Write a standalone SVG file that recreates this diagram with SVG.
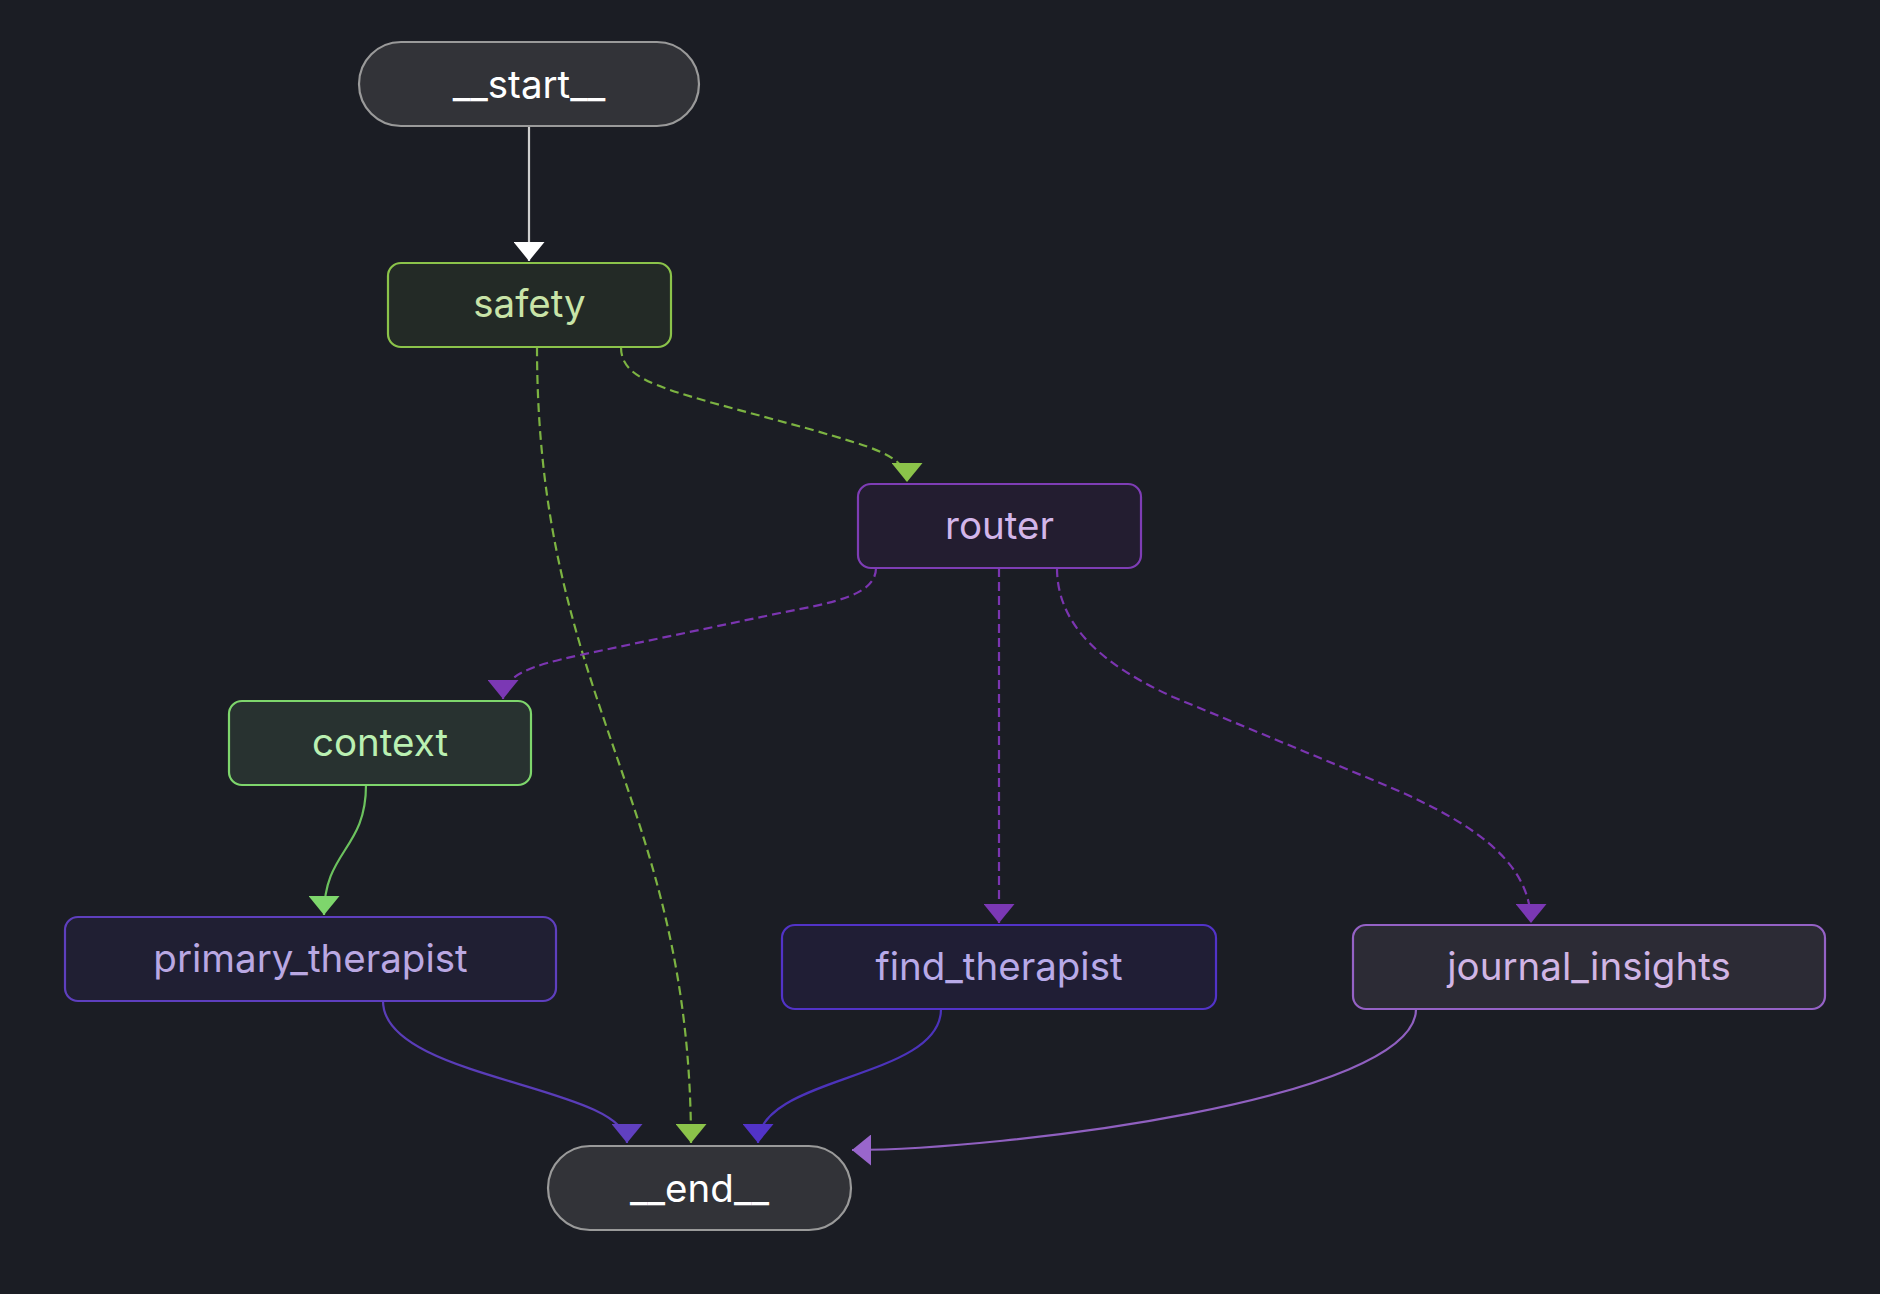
<svg xmlns="http://www.w3.org/2000/svg" width="1880" height="1294" viewBox="0 0 1880 1294">
<style>
  .node rect { stroke-width: 2.2; }
  .lbl { font-family: Inter, "Noto Sans", "Liberation Sans", sans-serif; font-size: 38.5px; text-anchor: middle; }
  .edge { fill: none; stroke-width: 2.2; }
  .dash { stroke-dasharray: 9 5; }
</style>
<defs>
  <marker id="mWhite" markerUnits="userSpaceOnUse" viewBox="0 0 19 31" markerWidth="19" markerHeight="31" refX="19" refY="15.5" orient="auto"><path d="M0,0 L19,15.5 L0,31 z" fill="#ffffff"/></marker>
  <marker id="mGreen" markerUnits="userSpaceOnUse" viewBox="0 0 19 31" markerWidth="19" markerHeight="31" refX="19" refY="15.5" orient="auto"><path d="M0,0 L19,15.5 L0,31 z" fill="#8bc34a"/></marker>
  <marker id="mLGreen" markerUnits="userSpaceOnUse" viewBox="0 0 19 31" markerWidth="19" markerHeight="31" refX="19" refY="15.5" orient="auto"><path d="M0,0 L19,15.5 L0,31 z" fill="#7ed66c"/></marker>
  <marker id="mPurple" markerUnits="userSpaceOnUse" viewBox="0 0 19 31" markerWidth="19" markerHeight="31" refX="19" refY="15.5" orient="auto"><path d="M0,0 L19,15.5 L0,31 z" fill="#7b38b4"/></marker>
  <marker id="mIndigo" markerUnits="userSpaceOnUse" viewBox="0 0 19 31" markerWidth="19" markerHeight="31" refX="19" refY="15.5" orient="auto"><path d="M0,0 L19,15.5 L0,31 z" fill="#6040c0"/></marker>
  <marker id="mBlue" markerUnits="userSpaceOnUse" viewBox="0 0 19 31" markerWidth="19" markerHeight="31" refX="19" refY="15.5" orient="auto"><path d="M0,0 L19,15.5 L0,31 z" fill="#5233c8"/></marker>
  <marker id="mLav" markerUnits="userSpaceOnUse" viewBox="0 0 19 31" markerWidth="19" markerHeight="31" refX="19" refY="15.5" orient="auto"><path d="M0,0 L19,15.5 L0,31 z" fill="#9966cc"/></marker>
</defs>
<rect x="0" y="0" width="1880" height="1294" fill="#1b1d24"/>

<g id="connectors">
  <path id="e-start-safety" class="edge" stroke="#cfcfcf" d="M529,127 L529,261" marker-end="url(#mWhite)"/>
  <path id="e-safety-router" class="edge dash" stroke="#7cb342" d="M621,347 C621,375 650,385 713,403 L813,430 C870,447 907,455 907,482" marker-end="url(#mGreen)"/>
  <path id="e-safety-end" class="edge dash" stroke="#7cb342" d="M537,347 C537,700 691,800 691,1143" marker-end="url(#mGreen)"/>
  <path id="e-router-context" class="edge dash" stroke="#7b35b0" d="M876,568 C876,596 830,603 780,613 L580,655 C530,666 503,675 503,699" marker-end="url(#mPurple)"/>
  <path id="e-router-find" class="edge dash" stroke="#7b35b0" d="M999,568 L999,923" marker-end="url(#mPurple)"/>
  <path id="e-router-journal" class="edge dash" stroke="#7b35b0" d="M1057,568 C1057,630 1110,668 1173,697 L1373,780 C1470,820 1531,860 1531,923" marker-end="url(#mPurple)"/>
  <path id="e-context-primary" class="edge" stroke="#6cc25e" d="M366,785 C366,850 324,850 324,915" marker-end="url(#mLGreen)"/>
  <path id="e-primary-end" class="edge" stroke="#5a3db8" d="M383,1001 C383,1080 627,1085 627,1143" marker-end="url(#mIndigo)"/>
  <path id="e-find-end" class="edge" stroke="#4c33bb" d="M941,1009 C941,1080 758,1075 758,1143" marker-end="url(#mBlue)"/>
  <path id="e-journal-end" class="edge" stroke="#9060c0" d="M1416,1009 C1416,1100 1000,1150 852,1150" marker-end="url(#mLav)"/>
</g>

<g id="node-start" class="node">
  <rect x="359" y="42" width="340" height="84" rx="42" fill="#323338" stroke="#9a9a9a"/>
  <text class="lbl" x="529" y="98" fill="#ffffff">__start__</text>
</g>
<g id="node-safety" class="node">
  <rect x="388" y="263" width="283" height="84" rx="13" fill="#232a26" stroke="#8bc34a"/>
  <text class="lbl" x="529.5" y="317" fill="#c9e4a8">safety</text>
</g>
<g id="node-router" class="node">
  <rect x="858" y="484" width="283" height="84" rx="13" fill="#231d30" stroke="#7e3db5"/>
  <text class="lbl" x="999.5" y="539" fill="#d3b6ea">router</text>
</g>
<g id="node-context" class="node">
  <rect x="229" y="701" width="302" height="84" rx="13" fill="#283230" stroke="#7ed66c"/>
  <text class="lbl" x="380" y="756" fill="#baf0b2">context</text>
</g>
<g id="node-primary_therapist" class="node">
  <rect x="65" y="917" width="491" height="84" rx="13" fill="#201f33" stroke="#5e3fbe"/>
  <text class="lbl" x="310.5" y="972" fill="#baa8e2">primary_therapist</text>
</g>
<g id="node-find_therapist" class="node">
  <rect x="782" y="925" width="434" height="84" rx="13" fill="#201e35" stroke="#5233c8"/>
  <text class="lbl" x="999" y="980" fill="#b8aae8">find_therapist</text>
</g>
<g id="node-journal_insights" class="node">
  <rect x="1353" y="925" width="472" height="84" rx="13" fill="#2c2b35" stroke="#9562c6"/>
  <text class="lbl" x="1589" y="980" fill="#d1b5e5">journal_insights</text>
</g>
<g id="node-end" class="node">
  <rect x="548" y="1146" width="303" height="84" rx="42" fill="#323338" stroke="#9a9a9a"/>
  <text class="lbl" x="699.5" y="1202" fill="#ffffff">__end__</text>
</g>
</svg>
